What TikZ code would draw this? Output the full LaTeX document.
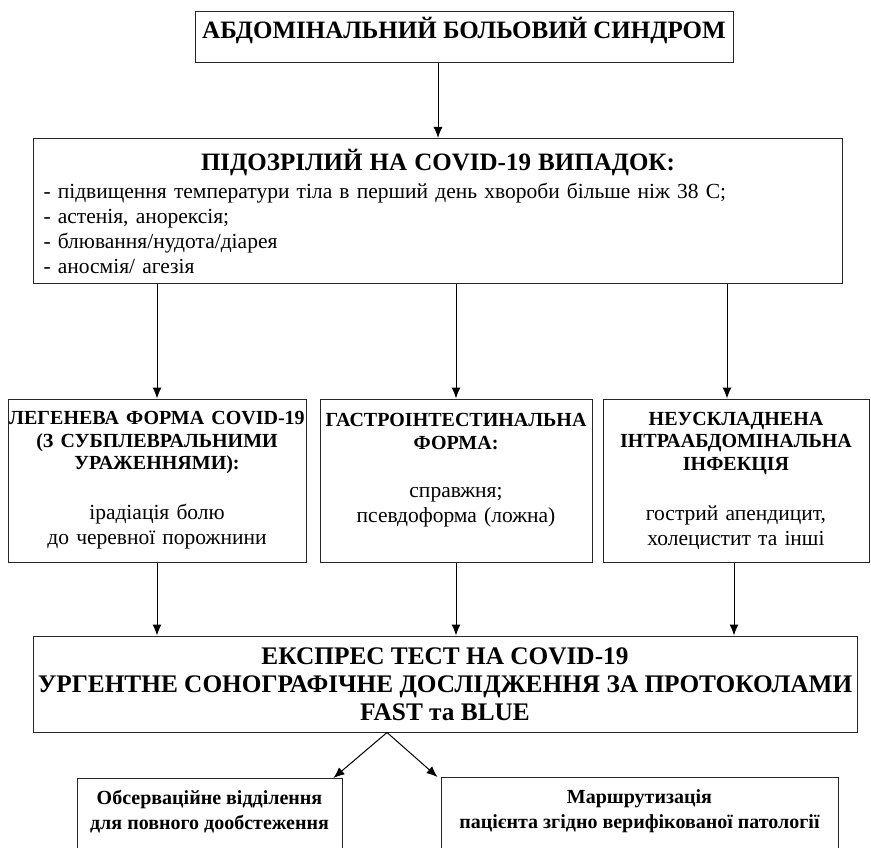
\documentclass[tikz,border=0pt]{standalone}
\usepackage{fontspec}
\setmainfont{Liberation Serif}
\usetikzlibrary{arrows.meta}

\newcommand{\tierhead}[1]{\mbox{\fontsize{20}{25}\selectfont\bfseries #1}}

\begin{document}
\begin{tikzpicture}[x=1pt,y=-1pt,>={Latex[length=11pt,width=9pt]},
    box/.style={draw=black!85,line width=1pt,inner ysep=0pt,align=center},
    tier/.style={box,minimum height=163,inner xsep=0pt,
      font=\fontsize{21.5}{25}\selectfont},
    leaf/.style={box,anchor=north,inner ysep=8.5pt,inner xsep=2pt,
      font=\fontsize{20}{25}\selectfont\bfseries},
    link/.style={->,line width=1pt}]
  \useasboundingbox (0,0) rectangle (871,848);
  % top of the scheme
  \node[draw=black!85,line width=1pt,anchor=north,minimum width=538,
    inner ysep=0pt,text height=27pt,text depth=24pt,
    font=\fontsize{25}{28}\selectfont\bfseries] (title) at (464,11)
    {АБДОМІНАЛЬНИЙ БОЛЬОВИЙ СИНДРОМ};
  \node[box,anchor=north west,minimum width=809,minimum height=145,
    text width=789pt,align=left,inner xsep=10pt,
    font=\fontsize{21.5}{25}\selectfont] (suspect) at (33,138)
    {\makebox[789pt][c]{\fontsize{25}{28}\selectfont\bfseries
      ПІДОЗРІЛИЙ НА COVID-19 ВИПАДОК:}\\[3pt]
     - підвищення температури тіла в перший день хвороби більше ніж 38 С;\\
     - астенія, анорексія;\\
     - блювання/нудота/діарея\\
     - аносмія/ агезія};
  % three forms
  \node[tier,minimum width=298,text width=298pt] (lung) at (157,480.5)
    {\tierhead{ЛЕГЕНЕВА ФОРМА COVID-19}\\[-2.5pt]
     \tierhead{(З СУБПЛЕВРАЛЬНИМИ}\\[-2.5pt]
     \tierhead{УРАЖЕННЯМИ):}\\[25pt]
     ірадіація болю\\
     до черевної порожнини};
  \node[tier,minimum width=272,text width=272pt] (gastro) at (456,480.5)
    {\tierhead{ГАСТРОІНТЕСТИНАЛЬНА}\\[-2.5pt]
     \tierhead{ФОРМА:}\\[23pt]
     справжня;\\
     псевдоформа (ложна)\\
     \mbox{}};
  \node[tier,minimum width=266,text width=266pt] (infect) at (736,480.5)
    {\tierhead{НЕУСКЛАДНЕНА}\\[-2.5pt]
     \tierhead{ІНТРААБДОМІНАЛЬНА}\\[-2.5pt]
     \tierhead{ІНФЕКЦІЯ}\\[25pt]
     гострий апендицит,\\
     холецистит та інші};
  % diagnostics
  \node[box,minimum width=824,minimum height=96,
    font=\fontsize{25.3}{28}\selectfont\bfseries] (express) at (445,684)
    {ЕКСПРЕС ТЕСТ НА COVID-19\\
     УРГЕНТНЕ СОНОГРАФІЧНЕ ДОСЛІДЖЕННЯ ЗА ПРОТОКОЛАМИ\\
     FAST та BLUE};
  \node[leaf,minimum width=265] (observ) at (209.5,778)
    {\strut Обсерваційне відділення\\
     для повного дообстеження\\ ~};
  \node[leaf,minimum width=397] (route) at (639.5,777)
    {\strut Маршрутизація\\
     пацієнта згідно верифікованої патології\\ ~};
  \coordinate (fork) at ([xshift=-58pt]express.south);
  % arrows
  \draw[link] (title.south -| suspect.north) -- (suspect.north);
  \draw[link] (suspect.south -| lung.north) -- (lung.north);
  \draw[link] (suspect.south -| gastro.north) -- (gastro.north);
  \draw[link] ([xshift=-9pt]suspect.south -| infect.north) -- ([xshift=-9pt]infect.north);
  \draw[link] (lung.south) -- (lung.south |- express.north);
  \draw[link] (gastro.south) -- (gastro.south |- express.north);
  \draw[link] ([xshift=-2pt]infect.south) -- ([xshift=-2pt]infect.south |- express.north);
  \draw[link] (fork) -- ([xshift=-9pt]observ.north east);
  \draw[link] (fork) -- ([xshift=-3pt]route.north west);
\end{tikzpicture}
\end{document}
